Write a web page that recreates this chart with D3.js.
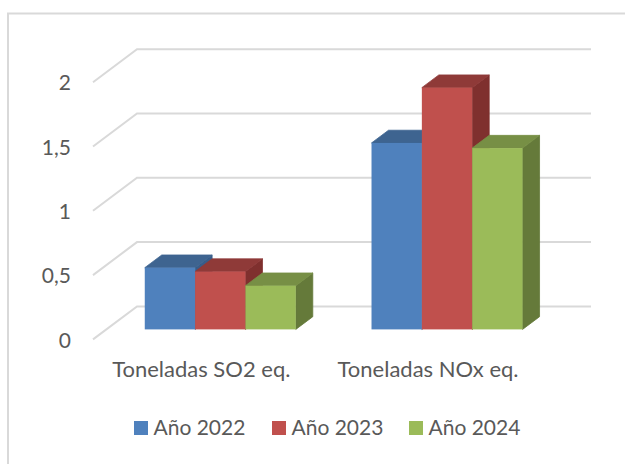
<!DOCTYPE html>
<html>
<head>
<meta charset="utf-8">
<script src="https://cdn.jsdelivr.net/npm/d3@7"></script>
<style>
  html, body { margin: 0; padding: 0; background: #fff; }
  text { font-family: Lato, "Open Sans", sans-serif; fill: #595959; }
</style>
</head>
<body>
<div id="chart"></div>
<script>
var categories = ["Toneladas SO2 eq.", "Toneladas NOx eq."];
var series = ["Año 2022", "Año 2023", "Año 2024"];
var values2022 = [0.48, 1.45];
var values2023 = [0.45, 1.88];
var values2024 = [0.34, 1.41];
var tickValues = [0, 0.5, 1, 1.5, 2];

var allValues = [values2022, values2023, values2024];

var colors = [
  {front: "#4f81bd", top: "#3e6490", side: "#385d8a"},
  {front: "#c0504d", top: "#8f3a38", side: "#7f302e"},
  {front: "#9bbb59", top: "#778f45", side: "#657a3a"}
];

var width = 625, height = 464;

var svg = d3.select("#chart").append("svg")
    .attr("width", width)
    .attr("height", height)
    .style("display", "block");

// chart frame, only the top and left edges are in the picture
svg.append("path")
    .attr("d", "M8,464V13.5H625")
    .attr("fill", "none")
    .attr("stroke", "#d9d9d9")
    .attr("stroke-width", 2);

// y is measured on the front of the floor, the walls sit behind it
var y = d3.scaleLinear().domain([0, 2]).range([339.4, 82.2]);

var wall = {dx: 44, dy: -33, right: 591};
var barLift = -10;
var depth = {dx: 17, dy: -12.7};

var x0 = d3.scaleBand().domain(categories).range([106.9, 560.4])
    .paddingInner(0.334).paddingOuter(0.167);
var x1 = d3.scaleBand().domain(series).range([0, x0.bandwidth()]);

// gridlines
var grid = svg.append("g")
    .attr("fill", "none")
    .attr("stroke", "#d9d9d9")
    .attr("stroke-width", 2);

grid.selectAll("path")
    .data(tickValues)
  .enter().append("path")
    .attr("d", function(d) {
      return "M93," + y(d) + "L" + (93 + wall.dx) + "," + (y(d) + wall.dy) + "H" + wall.right;
    });

// y axis labels
var comma = d3.format(",");
var yAxis = svg.append("g")
    .attr("transform", "translate(71,1)")
    .call(d3.axisLeft(y)
      .tickValues(tickValues)
      .tickSize(0)
      .tickPadding(0)
      .tickFormat(function(d) { return comma(d).replace(".", ","); }));
yAxis.select(".domain").remove();
yAxis.selectAll("text")
    .style("font-family", "Lato, 'Open Sans', sans-serif")
    .style("font-size", "21px")
    .attr("fill", "#595959");

// bars, one box at a time so the later series cover the earlier ones
categories.forEach(function(cat, i) {
  series.forEach(function(name, s) {
    var v = allValues[s][i];
    var left = x0(cat) + x1(name);
    var right = left + x1.bandwidth();
    var topY = y(v) + barLift;
    var baseY = y(0) + barLift;
    var g = svg.append("g")
        .attr("stroke-width", 0.8);

    g.append("path")
        .attr("d", "M" + right + "," + topY + "L" + (right + depth.dx) + "," + (topY + depth.dy) +
          "V" + (baseY + depth.dy) + "L" + right + "," + baseY + "Z")
        .attr("fill", colors[s].side)
        .attr("stroke", colors[s].side);

    g.append("path")
        .attr("d", "M" + left + "," + topY + "L" + (left + depth.dx) + "," + (topY + depth.dy) +
          "H" + (right + depth.dx) + "L" + right + "," + topY + "Z")
        .attr("fill", colors[s].top)
        .attr("stroke", colors[s].top);

    g.append("rect")
        .attr("x", left)
        .attr("y", topY)
        .attr("width", x1.bandwidth())
        .attr("height", baseY - topY)
        .attr("fill", colors[s].front);
  });
});

// category labels
svg.selectAll(".cat-label")
    .data(categories)
  .enter().append("text")
    .attr("class", "cat-label")
    .attr("x", function(d) { return x0(d) + x0.bandwidth() / 2 - 19; })
    .attr("y", 377)
    .attr("text-anchor", "middle")
    .style("font-size", "22px")
    .text(function(d) { return d; });

// legend
var legendX = d3.scaleOrdinal().domain(series).range([134, 272, 409]);
var legend = svg.selectAll(".legend")
    .data(series)
  .enter().append("g")
    .attr("class", "legend")
    .attr("transform", function(d) { return "translate(" + legendX(d) + ",421)"; });

legend.append("rect")
    .attr("width", 14)
    .attr("height", 14)
    .attr("fill", function(d, i) { return colors[i].front; });

legend.append("text")
    .attr("x", 19.5)
    .attr("y", 14)
    .style("font-size", "21px")
    .text(function(d) { return d; });
</script>
</body>
</html>
